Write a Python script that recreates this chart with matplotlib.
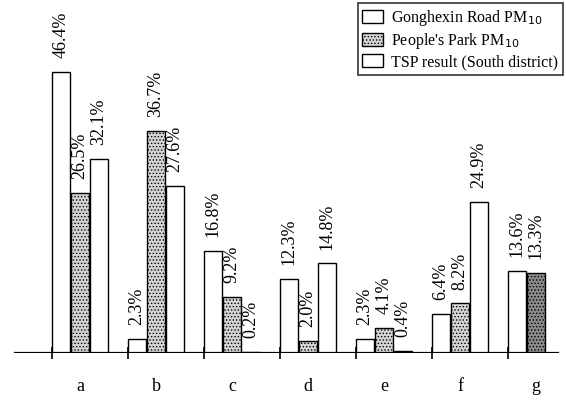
import numpy as np
import matplotlib.pyplot as plt

categories = ['a', 'b', 'c', 'd', 'e', 'f', 'g']
gonghexin = [46.4, 2.3, 16.8, 12.3, 2.3, 6.4, 13.6]
peoples_park = [26.5, 36.7, 9.2, 2.0, 4.1, 8.2, 13.3]
tsp_south = [32.1, 27.6, 0.2, 14.8, 0.4, 24.9, None]

plt.rcParams['font.family'] = ['Liberation Serif', 'DejaVu Serif']
plt.rcParams['hatch.linewidth'] = 0.6

fig = plt.figure(figsize=(5.66, 4.04), dpi=100)
ax = fig.add_axes([0, 51 / 404, 1, 353 / 404])

x = np.arange(len(categories))
w = 0.235
step = 0.25

b1 = ax.bar(x - step, gonghexin, w, color='white', edgecolor='black', linewidth=1.0,
            label='Gonghexin Road PM$_{10}$')
pp_colors = ['#d4d4d4'] * 6 + ['#8a8a8a']
b2 = ax.bar(x, peoples_park, w, color=pp_colors, edgecolor='black', linewidth=1.0,
            hatch='.....', label="People's Park PM$_{10}$")
tx = [xi + step for xi, v in zip(x, tsp_south) if v is not None]
tv = [v for v in tsp_south if v is not None]
b3 = ax.bar(tx, tv, w, color='white', edgecolor='black', linewidth=1.0,
            label='TSP result (South district)')

# value labels, rotated, above each bar
for bars, vals in [(b1, gonghexin), (b2, peoples_park), (b3, tv)]:
    for r, v in zip(bars, vals):
        ax.annotate(f'{v:.1f}%', (r.get_x() + r.get_width() / 2, v),
                    xytext=(0, 10), textcoords='offset points',
                    rotation=90, ha='center', va='bottom', fontsize=13)

ax.set_xlim(-80 / 76, (566 - 80) / 76)
ax.set_ylim(0, 353 / 6.05)

for s in ax.spines.values():
    s.set_visible(False)
ax.axhline(0, xmin=15 / 566, xmax=558 / 566, color='black', linewidth=1.6)

ax.set_yticks([])
ax.set_xticks(x)
ax.set_xticklabels(categories, fontsize=13)
ax.tick_params(axis='x', which='major', length=0, pad=18)
ax.set_xticks(x - 0.375, minor=True)
ax.tick_params(axis='x', which='minor', direction='inout', length=9, width=1.2)

leg = ax.legend(loc='upper right', bbox_to_anchor=(563 / 566, 1.0 - 3 / 353),
                fontsize=11.5, frameon=True, fancybox=False, edgecolor='black',
                handlelength=1.3, handleheight=0.9, handletextpad=0.5,
                labelspacing=0.2, borderpad=0.3, borderaxespad=0)
leg.get_frame().set_linewidth(1.2)

fig.savefig('out.png', dpi=100)
